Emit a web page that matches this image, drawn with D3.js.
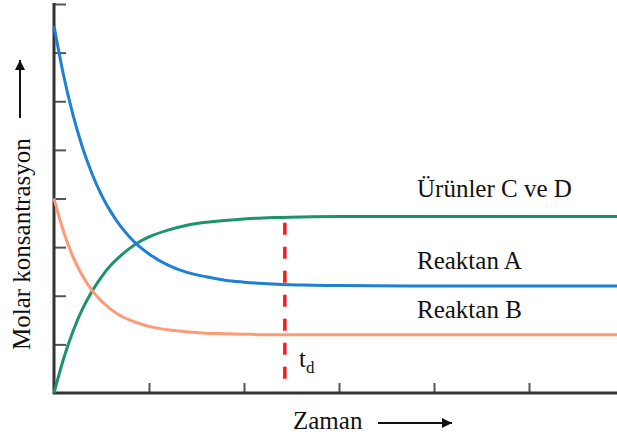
<!DOCTYPE html>
<html lang="tr">
<head>
  <meta charset="UTF-8">
  <title>Molar konsantrasyon</title>
  <style>
    body { margin: 0; background: #fff; }
    svg { display: block; }
    text { font-family: "Liberation Serif", "Times New Roman", serif; fill: #111; }
    .lbl { font-size: 25px; }
  </style>
</head>
<body>
<svg width="617" height="441"></svg>

<script src="https://cdn.jsdelivr.net/npm/d3@7"></script>
<script>
  // time points (arbitrary units) and concentrations
  const time     = [0, 0.1, 0.2, 0.3, 0.4, 0.5, 0.6, 0.7, 0.8, 0.9, 1, 1.2, 1.4, 1.6, 1.8, 2, 2.2, 2.4, 2.6, 3, 4, 5, 6];
  const reaktanA = [7.55, 6.54, 5.72, 5.05, 4.51, 4.07, 3.72, 3.43, 3.20, 3.01, 2.86, 2.63, 2.48, 2.39, 2.32, 2.28, 2.25, 2.23, 2.22, 2.21, 2.20, 2.20, 2.20];
  const reaktanB = [4.00, 3.32, 2.80, 2.41, 2.11, 1.89, 1.72, 1.59, 1.50, 1.43, 1.37, 1.30, 1.26, 1.23, 1.22, 1.21, 1.20, 1.20, 1.20, 1.20, 1.20, 1.20, 1.20];
  const urunler  = [0, 0.70, 1.27, 1.73, 2.09, 2.39, 2.63, 2.82, 2.98, 3.11, 3.21, 3.35, 3.45, 3.51, 3.55, 3.58, 3.60, 3.61, 3.62, 3.63, 3.63, 3.63, 3.63];
  const xTicks = [1, 2, 3, 4, 5];
  const yTicks = [1, 2, 3, 4, 5, 6, 7];
  const tD = 2.43;

  const series = [
    {name: 'Ürünler C ve D', values: urunler,  color: '#1b9469'},
    {name: 'Reaktan A',      values: reaktanA, color: '#1f7fd5'},
    {name: 'Reaktan B',      values: reaktanB, color: '#fd9a77'}
  ];

  const svg = d3.select("svg");

  const x = d3.scaleLinear().domain([0, 6]).range([54, 624]);
  const y = d3.scaleLinear().domain([0, 8]).range([393, 4]);

  // axes
  const yAxis = svg.append("g")
    .attr("transform", "translate(" + x(0) + ",0)")
    .call(d3.axisRight(y).tickValues(yTicks.concat([8])).tickSize(12).tickFormat(""));
  yAxis.select(".domain").remove();
  yAxis.selectAll("line").attr("stroke", "#555").attr("stroke-width", 2);

  const xAxis = svg.append("g")
    .attr("transform", "translate(0," + y(0) + ")")
    .call(d3.axisTop(x).tickValues(xTicks).tickSize(10).tickFormat(""));
  xAxis.select(".domain").remove();
  xAxis.selectAll("line").attr("stroke", "#555").attr("stroke-width", 2);

  svg.append("line")
    .attr("x1", x(0)).attr("x2", x(0))
    .attr("y1", y(8) - 1).attr("y2", y(0) + 1)
    .attr("stroke", "#333").attr("stroke-width", 3);
  svg.append("line")
    .attr("x1", x(0) - 1).attr("x2", 617)
    .attr("y1", y(0)).attr("y2", y(0))
    .attr("stroke", "#333").attr("stroke-width", 3);

  // curves
  const line = d3.line()
    .x((d, i) => x(time[i]))
    .y(d => y(d))
    .curve(d3.curveMonotoneX);

  svg.selectAll(".curve")
    .data(series)
    .enter()
    .append("path")
    .attr("class", "curve")
    .attr("d", d => line(d.values))
    .attr("fill", "none")
    .attr("stroke", d => d.color)
    .attr("stroke-width", 3);

  // equilibrium time marker
  svg.append("line")
    .attr("x1", x(tD)).attr("x2", x(tD))
    .attr("y1", y(3.5)).attr("y2", y(0.24))
    .attr("stroke", "#f21c1c")
    .attr("stroke-width", 3.5)
    .attr("stroke-dasharray", "12,12");

  // series labels
  const labelY = [197, 269, 318];
  svg.selectAll(".lbl.series")
    .data(series)
    .enter()
    .append("text")
    .attr("class", "lbl series")
    .attr("x", 417)
    .attr("y", (d, i) => labelY[i])
    .text(d => d.name);

  const td = svg.append("text").attr("class", "lbl").attr("x", 299).attr("y", 367);
  td.append("tspan").text("t");
  td.append("tspan").attr("dy", 6).style("font-size", "17px").text("d");

  // axis titles with arrows
  svg.append("defs").append("marker")
    .attr("id", "arr")
    .attr("viewBox", "0 0 10 10")
    .attr("refX", 10).attr("refY", 5)
    .attr("markerWidth", 6).attr("markerHeight", 5)
    .attr("markerUnits", "strokeWidth")
    .attr("orient", "auto")
    .append("path")
    .attr("d", "M0,0L10,5L0,10z")
    .attr("fill", "#111");

  svg.append("text")
    .attr("class", "lbl")
    .attr("x", 293).attr("y", 429)
    .text("Zaman");
  svg.append("line")
    .attr("x1", 378).attr("x2", 452)
    .attr("y1", 423).attr("y2", 423)
    .attr("stroke", "#111").attr("stroke-width", 2)
    .attr("marker-end", "url(#arr)");

  svg.append("text")
    .attr("class", "lbl")
    .attr("transform", "translate(30,350) rotate(-90)")
    .text("Molar konsantrasyon");
  svg.append("line")
    .attr("x1", 20).attr("x2", 20)
    .attr("y1", 118).attr("y2", 60)
    .attr("stroke", "#111").attr("stroke-width", 2)
    .attr("marker-end", "url(#arr)");
</script>
</body>
</html>
